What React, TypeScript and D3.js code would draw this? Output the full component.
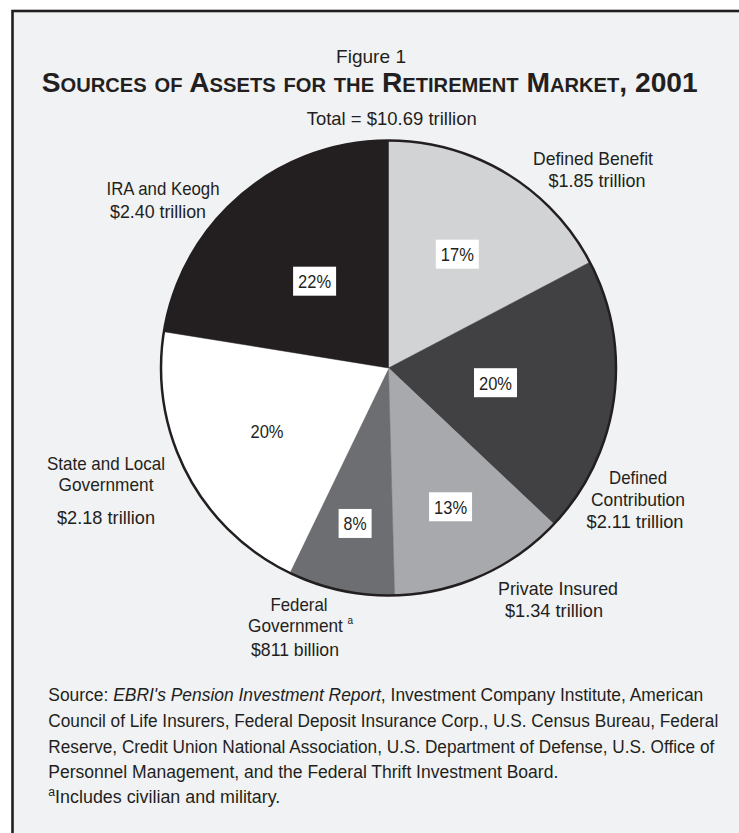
import React from "react";
import * as d3 from "d3";

// ---------- data ----------
const CATEGORIES = [
  "Defined Benefit",
  "Defined Contribution",
  "Private Insured",
  "Federal Government",
  "State and Local Government",
  "IRA and Keogh",
];
const VALUES = [1.85, 2.11, 1.34, 0.811, 2.18, 2.4]; // $ trillion
const PERCENT_LABELS = ["17%", "20%", "13%", "8%", "20%", "22%"];
const NAME_LINES = [
  ["Defined Benefit"],
  ["Defined", "Contribution"],
  ["Private Insured"],
  ["Federal", "Government"],
  ["State and Local", "Government"],
  ["IRA and Keogh"],
];
const AMOUNT_LABELS = [
  "$1.85 trillion",
  "$2.11 trillion",
  "$1.34 trillion",
  "$811 billion",
  "$2.18 trillion",
  "$2.40 trillion",
];
const TITLE_PRE = "Figure 1";
const TITLE = "Sources of Assets for the Retirement Market, 2001";
const SUBTITLE = "Total = $10.69 trillion";

// ---------- style / layout ----------
const COLORS = ["#d1d3d4", "#414042", "#a7a9ac", "#6d6e71", "#ffffff", "#231f20"];
const BOXED = [true, true, true, true, false, true];
const PCT_RADIUS = [133, 108, 152, 159, 137, 114];
const INK = "#231f20";
const PANEL = "#f1f2f4";
const FONT = "'Liberation Sans', Arial, sans-serif";
const LABEL_SIZE = 19;

const W = 739;
const H = 833;
const CX = 388.5;
const CY = 368;
const R = 227.5;

// label line layout: [centerX, baseline, width]
const LABEL_LAYOUT: [number, number, number][][] = [
  [[593, 165, 120], [597, 187, 97]],
  [[638, 484, 58], [638, 506, 94], [635, 528, 97]],
  [[558, 595, 120], [554, 617, 98]],
  [[299, 611, 57], [300.5, 632, 105], [295, 656, 88]],
  [[106, 470, 118], [106, 491, 95], [106, 524, 98]],
  [[163, 195, 113], [158, 218, 96]],
];

const SOURCE_X = 48.3;
const SOURCE_BASE = [701, 727, 752.5, 778, 803];
const SOURCE_W = [655, 670, 666, 510, 232];

function Line({ c, b, w, size, children, weight }: any) {
  return (
    <text
      x={c - w / 2}
      y={b}
      textLength={w}
      lengthAdjust="spacingAndGlyphs"
      fontSize={size}
      fontWeight={weight || "normal"}
      fill={INK}
      fontFamily={FONT}
    >
      {children}
    </text>
  );
}

export default function App() {
  const pie = d3
    .pie<number>()
    .sort(null)
    .value((d) => d)
    .startAngle(0)
    .endAngle(2 * Math.PI);
  const arcs = pie(VALUES);
  const arcGen = d3.arc<d3.PieArcDatum<number>>().innerRadius(0).outerRadius(R);

  return (
    <svg
      width={W}
      height={H}
      style={{ position: "absolute", left: 0, top: 0, background: "#fff" }}
    >
      <rect x={0} y={0} width={W} height={H} fill="#ffffff" />
      <rect
        x={12.5}
        y={11}
        width={W + 50}
        height={H + 50}
        fill={PANEL}
        stroke={INK}
        strokeWidth={2.6}
      />

      {/* titles */}
      <Line c={371} b={63} w={70} size={LABEL_SIZE}>{TITLE_PRE}</Line>
      <text
        x={41.7}
        y={92}
        textLength={656}
        lengthAdjust="spacingAndGlyphs"
        fontSize={28}
        fontWeight="bold"
        fill={INK}
        fontFamily={FONT}
        style={{ fontVariant: "small-caps" }}
      >
        {TITLE}
      </text>
      <Line c={391.7} b={125} w={170} size={LABEL_SIZE}>{SUBTITLE}</Line>

      {/* pie */}
      <g transform={`translate(${CX},${CY})`}>
        {arcs.map((a, i) => (
          <path key={CATEGORIES[i]} d={arcGen(a) || ""} fill={COLORS[i]} stroke={COLORS[i]} strokeWidth={0.5} />
        ))}
        <circle r={R} fill="none" stroke={INK} strokeWidth={2.5} />
        {arcs.map((a, i) => {
          const mid = (a.startAngle + a.endAngle) / 2;
          const x = Math.sin(mid) * PCT_RADIUS[i];
          const y = -Math.cos(mid) * PCT_RADIUS[i];
          const label = PERCENT_LABELS[i];
          const bw = label.length > 2 ? 43 : 33;
          return (
            <g key={"p" + i} transform={`translate(${x},${y})`}>
              {BOXED[i] && <rect x={-bw / 2} y={-14.5} width={bw} height={29} fill="#ffffff" />}
              <text
                x={-(label.length > 2 ? 16.5 : 11.5)}
                y={6.8}
                textLength={label.length > 2 ? 33 : 23}
                lengthAdjust="spacingAndGlyphs"
                fontSize={LABEL_SIZE}
                fill={INK}
                fontFamily={FONT}
              >
                {label}
              </text>
            </g>
          );
        })}
      </g>

      {/* slice labels */}
      {CATEGORIES.map((cat, i) => {
        const lines = [...NAME_LINES[i], AMOUNT_LABELS[i]];
        return (
          <g key={"l" + cat}>
            {lines.map((ln, j) => {
              const [c, b, w] = LABEL_LAYOUT[i][j];
              const withNote = i === 3 && j === 1;
              return (
                <Line key={j} c={c} b={b} w={w} size={LABEL_SIZE}>
                  {ln}
                  {withNote && (
                    <tspan fontSize={11} dx={5} dy={-8}>
                      a
                    </tspan>
                  )}
                </Line>
              );
            })}
          </g>
        );
      })}

      {/* source */}
      <g fontFamily={FONT} fontSize={17.5} fill={INK}>
        <text x={SOURCE_X} y={SOURCE_BASE[0]} textLength={SOURCE_W[0]} lengthAdjust="spacingAndGlyphs">
          Source: <tspan fontStyle="italic">EBRI's Pension Investment Report</tspan>, Investment Company Institute, American
        </text>
        <text x={SOURCE_X} y={SOURCE_BASE[1]} textLength={SOURCE_W[1]} lengthAdjust="spacingAndGlyphs">
          Council of Life Insurers, Federal Deposit Insurance Corp., U.S. Census Bureau, Federal
        </text>
        <text x={SOURCE_X} y={SOURCE_BASE[2]} textLength={SOURCE_W[2]} lengthAdjust="spacingAndGlyphs">
          Reserve, Credit Union National Association, U.S. Department of Defense, U.S. Office of
        </text>
        <text x={SOURCE_X} y={SOURCE_BASE[3]} textLength={SOURCE_W[3]} lengthAdjust="spacingAndGlyphs">
          Personnel Management, and the Federal Thrift Investment Board.
        </text>
        <text x={SOURCE_X} y={SOURCE_BASE[4]} textLength={SOURCE_W[4]} lengthAdjust="spacingAndGlyphs">
          <tspan fontSize={12} dy={-7}>a</tspan>
          <tspan dy={7}>Includes civilian and military.</tspan>
        </text>
      </g>
    </svg>
  );
}
